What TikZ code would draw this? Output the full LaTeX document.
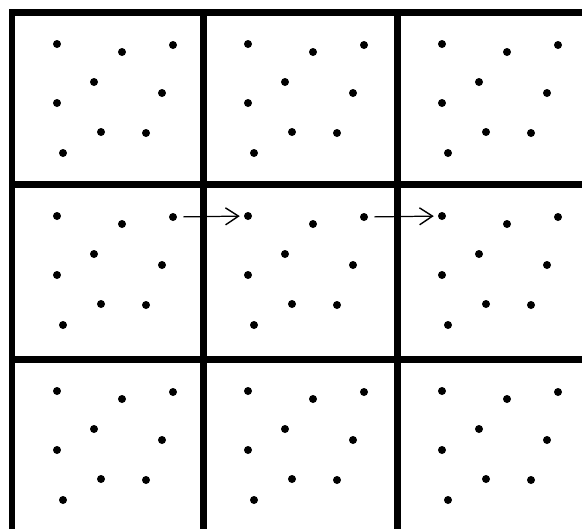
\documentclass[tikz,border=0pt]{standalone}
\usepackage{tikz}
\usetikzlibrary{arrows.meta}

\begin{document}
\begin{tikzpicture}[x=0.02cm, y=-0.02cm,
    dot/.style={circle, fill=black, inner sep=0pt, minimum size=0.16cm},
    wall/.style={line width=0.14cm, line join=miter},
    hop/.style={-{Straight Barb[length=0.26cm, width=0.34cm, line width=0.8pt]},
      line width=0.7pt, shorten <=3.4pt, shorten >=2.2pt}]
  \useasboundingbox (0,0) rectangle (582,529);
  % cell walls
  \draw[wall] (582,12) -- (12,12) -- (12,529);
  \draw[wall] (9,184) -- (582,184);
  \draw[wall] (9,359) -- (582,359);
  \draw[wall] (203,9) -- (203,529);
  \draw[wall] (397,9) -- (397,529);
  % same scatter of points in every cell
  \foreach \c/\cx in {1/12, 2/203, 3/397}
    \foreach \r/\cy in {1/12, 2/184, 3/359}
      \foreach \k/\dx/\dy in {1/45/32, 2/110/40, 3/161/33, 4/82/70, 5/150/81,
                              6/45/91, 7/89/120, 8/134/121, 9/51/141}
        \node[dot] (d\r\c-\k) at (\cx+\dx, \cy+\dy) {};
  % middle row: hand over to the next cell
  \draw[hop] (d21-3) -- (d22-1);
  \draw[hop] (d22-3) -- (d23-1);
\end{tikzpicture}
\end{document}
